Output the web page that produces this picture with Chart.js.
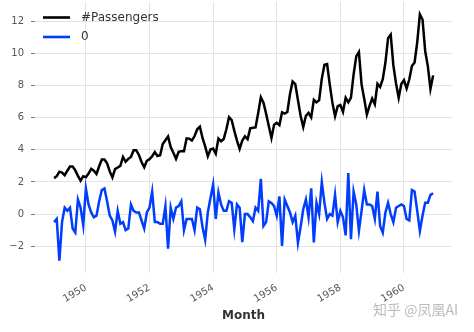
<!DOCTYPE html>
<html>
<head>
<meta charset="utf-8">
<script src="https://cdn.jsdelivr.net/npm/chart.js@4.4.1/dist/chart.umd.min.js"></script>
<style>
html,body{margin:0;padding:0;background:#fff;}
#wrap{width:474px;height:332px;position:relative;}
</style>
</head>
<body>
<div id="wrap"><canvas id="c" width="474" height="332"></canvas></div>
<script>
// Months as fractional years (Jan 1949 .. Dec 1960)
const startYear = 1949;
const monthCount = 144;

const passengers = [
  2.24,2.36,2.64,2.58,2.42,2.70,2.96,2.96,2.72,2.38,2.08,2.36,
  2.30,2.52,2.82,2.70,2.50,2.98,3.40,3.40,3.16,2.66,2.28,2.80,
  2.90,3.00,3.56,3.26,3.44,3.56,3.98,3.98,3.68,3.24,2.92,3.32,
  3.42,3.60,3.86,3.62,3.66,4.36,4.60,4.84,4.18,3.82,3.44,3.88,
  3.92,3.92,4.72,4.70,4.58,4.86,5.28,5.44,4.74,4.22,3.60,4.02,
  4.08,3.76,4.70,4.54,4.68,5.28,6.04,5.86,5.18,4.58,4.06,4.58,
  4.84,4.66,5.34,5.38,5.40,6.30,7.28,6.94,6.24,5.48,4.74,5.56,
  5.68,5.54,6.34,6.26,6.36,7.48,8.26,8.10,7.10,6.12,5.42,6.12,
  6.30,6.02,7.12,6.96,7.10,8.44,9.30,9.34,8.08,6.94,6.10,6.72,
  6.80,6.36,7.24,6.96,7.26,8.70,9.82,10.10,8.08,7.18,6.20,6.74,
  7.20,6.84,8.12,7.92,8.40,9.44,10.96,11.18,9.26,8.14,7.24,8.10,
  8.34,7.82,8.38,9.22,9.44,10.70,12.44,12.12,10.16,9.22,7.80,8.64
];

const series0 = [
  -0.5,-0.3,-2.9,-0.5,0.4,0.2,0.4,-0.9,-1.15,0.9,0.4,-0.7,
  1.6,0.6,0.1,-0.2,-0.1,0.8,1.5,1.6,0.8,-0.1,-0.4,-1.1,
  0.2,-0.6,-0.5,-1.0,-0.9,0.6,0.2,0.1,0.1,-0.4,-0.9,0.1,
  0.4,1.4,-0.5,-0.5,-0.6,-0.6,0.5,-2.15,0.4,-0.3,0.4,0.5,
  0.8,-1.0,-0.3,-0.3,-0.3,-1.0,0.4,0.3,-0.8,-1.6,0.1,1.0,
  1.85,-0.3,1.35,0.6,0.2,0.2,0.8,0.7,-0.95,0.6,0.4,-1.75,
  0.0,0.0,-0.2,-0.44,0.4,0.2,2.2,-0.74,-0.5,0.8,0.7,0.5,
  -0.1,1.1,-1.98,0.9,0.5,0.1,-0.5,-0.1,-1.8,-0.8,0.3,0.9,
  -0.2,1.6,-1.77,0.7,0.0,2.0,0.7,-0.3,0.0,-0.1,1.2,-0.5,
  0.2,-0.2,-1.33,2.55,-1.57,1.4,0.6,-1.05,0.2,1.5,0.6,0.6,
  0.5,-0.3,1.4,-0.74,-1.15,0.1,0.7,0.0,-0.5,0.4,0.5,0.6,
  0.5,-0.3,-0.4,1.5,1.4,0.2,-1.05,-0.1,0.7,0.7,1.2,1.3
];

const xTickYears = [1950, 1952, 1954, 1956, 1958, 1960];
const yTickValues = [-2, 0, 2, 4, 6, 8, 10, 12];
const seriesNames = ['#Passengers', '0'];
const seriesColors = ['#000000', '#003DFD'];
const xAxisTitle = 'Month';
const watermark = '知乎 @凤凰AI';

const monthPos = [];
for (let i = 0; i < monthCount; i++) monthPos.push(startYear + i / 12);

const toPoints = arr => arr.map((v, i) => ({x: monthPos[i], y: v}));

const xMin = 1948.40, xMax = 1961.51;
const yMin = -3.67, yMax = 13.21;

const legendPlugin = {
  id: 'mplLegend',
  afterDraw(chart) {
    const ctx = chart.ctx;
    ctx.save();
    chart.data.datasets.forEach((ds, i) => {
      const y = 17.5 + i * 19.5;
      ctx.strokeStyle = ds.borderColor;
      ctx.lineWidth = 2.6;
      ctx.beginPath();
      ctx.moveTo(43, y);
      ctx.lineTo(70, y);
      ctx.stroke();
      ctx.fillStyle = '#333333';
      ctx.font = '12px "DejaVu Sans"';
      ctx.textBaseline = 'middle';
      ctx.textAlign = 'left';
      ctx.fillText(ds.label, 81, y);
    });
    ctx.font = '14px "Noto Sans CJK SC"';
    ctx.fillStyle = 'rgba(175,175,175,0.85)';
    ctx.textAlign = 'left';
    ctx.textBaseline = 'middle';
    ctx.fillText(watermark, 373, 310);
    ctx.restore();
  }
};

new Chart(document.getElementById('c'), {
  type: 'line',
  data: {
    datasets: [
      {label: seriesNames[0], data: toPoints(passengers), borderColor: seriesColors[0], borderWidth: 2.5, pointRadius: 0, tension: 0, fill: false},
      {label: seriesNames[1], data: toPoints(series0), borderColor: seriesColors[1], borderWidth: 2.5, pointRadius: 0, tension: 0, fill: false}
    ]
  },
  options: {
    responsive: false,
    animation: false,
    events: [],
    layout: {padding: {left: 0, right: 22, top: 2, bottom: 0}},
    plugins: {legend: {display: false}, tooltip: {enabled: false}},
    scales: {
      x: {
        type: 'linear',
        min: xMin, max: xMax,
        border: {display: false},
        grid: {color: '#e4e4e4', lineWidth: 1, drawTicks: false},
        afterBuildTicks: s => { s.ticks = xTickYears.map(v => ({value: v})); },
        afterFit: s => { s.height = 59; s.paddingLeft = 0; s.paddingRight = 0; },
        ticks: {
          autoSkip: false, maxRotation: 30, minRotation: 30, padding: 9,
          color: '#555555', font: {family: 'DejaVu Sans', size: 10},
          callback: v => String(v)
        },
        title: {display: true, text: xAxisTitle, color: '#333333', font: {family: 'DejaVu Sans', size: 12, weight: 'bold'}, padding: {top: 0, bottom: 9}}
      },
      y: {
        type: 'linear',
        min: yMin, max: yMax,
        border: {display: false},
        grid: {color: '#e4e4e4', lineWidth: 1, drawTicks: true, tickLength: 6, tickColor: '#777777', tickWidth: 1, tickBorderDash: [0, 2, 4, 100]},
        afterBuildTicks: s => { s.ticks = yTickValues.map(v => ({value: v})); },
        afterFit: s => { s.width = 35; s.paddingTop = 0; s.paddingBottom = 0; },
        ticks: {
          padding: 5, color: '#555555', font: {family: 'DejaVu Sans', size: 10},
          callback: v => (v < 0 ? '\u2212' + Math.abs(v) : String(v))
        }
      }
    }
  },
  plugins: [legendPlugin]
});
</script>
</body>
</html>
